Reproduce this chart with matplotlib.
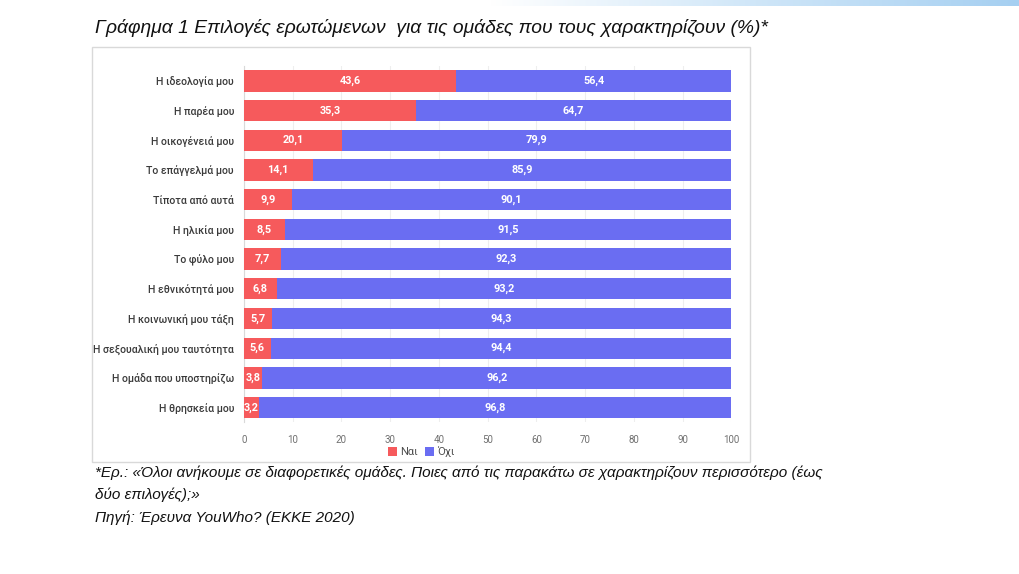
import numpy as np
import matplotlib.pyplot as plt
from matplotlib.patches import Rectangle
from matplotlib.colors import LinearSegmentedColormap

categories = ['Η ιδεολογία μου', 'Η παρέα μου', 'Η οικογένειά μου', 'Το επάγγελμά μου',
              'Τίποτα από αυτά', 'Η ηλικία μου', 'Το φύλο μου', 'Η εθνικότητά μου',
              'Η κοινωνική μου τάξη', 'Η σεξουαλική μου ταυτότητα',
              'Η ομάδα που υποστηρίζω', 'Η θρησκεία μου']
nai = [43.6, 35.3, 20.1, 14.1, 9.9, 8.5, 7.7, 6.8, 5.7, 5.6, 3.8, 3.2]
oxi = [56.4, 64.7, 79.9, 85.9, 90.1, 91.5, 92.3, 93.2, 94.3, 94.4, 96.2, 96.8]
series_names = ['Ναι', 'Όχι']
xticks = list(range(0, 101, 10))

title = 'Γράφημα 1 Επιλογές ερωτώμενων  για τις ομάδες που τους χαρακτηρίζουν (%)*'
note1 = '*Ερ.: «Όλοι ανήκουμε σε διαφορετικές ομάδες. Ποιες από τις παρακάτω σε χαρακτηρίζουν περισσότερο (έως'
note2 = 'δύο επιλογές);»'
note3 = 'Πηγή: Έρευνα YouWho? (EKKE 2020)'

red = '#F65A5C'
blue = '#6A6DF2'

fig = plt.figure(figsize=(10.2, 5.74), dpi=100)

# decorative gradient strip top right
gax = fig.add_axes([0.48, 0.99, 0.52, 0.01])
grad = np.linspace(0, 1, 256).reshape(1, -1)
gax.imshow(grad, aspect='auto', cmap=LinearSegmentedColormap.from_list(
    'g', ['#FFFFFF', '#CFE6F8', '#A5CFF1']))
gax.axis('off')

# chart frame
fig.patches.append(Rectangle((0.090, 0.195), 0.645, 0.723, transform=fig.transFigure,
                             fill=False, edgecolor='#D9D9D9', linewidth=1.0))

lfam = ['Roboto', 'DejaVu Sans']

ax = fig.add_axes([0.239, 0.264, 0.478, 0.621])
y = np.arange(len(categories))
h = 0.72
b1 = ax.barh(y, nai, height=h, color=red, label=series_names[0], zorder=3)
b2 = ax.barh(y, oxi, left=nai, height=h, color=blue, label=series_names[1], zorder=3)

for i in range(len(categories)):
    ax.text(nai[i] / 2, y[i], f'{nai[i]:.1f}'.replace('.', ','), ha='center', va='center',
            color='white', fontsize=7.8, fontweight='bold', family=lfam, zorder=4)
    ax.text(nai[i] + oxi[i] / 2, y[i], f'{oxi[i]:.1f}'.replace('.', ','), ha='center',
            va='center', color='white', fontsize=7.8, fontweight='bold', family=lfam, zorder=4)

ax.set_ylim(len(categories) - 0.5, -0.5)
ax.set_xlim(0, 100)
ax.set_xticks(xticks)
ax.set_xticklabels([str(t) for t in xticks], fontsize=7, color='#707070', family=lfam)
ax.set_yticks(y)
ax.set_yticklabels(categories, fontsize=7.6, color='#3A3A3A', fontweight='medium', family=lfam)
ax.tick_params(axis='both', length=0)
ax.tick_params(axis='y', pad=7)
ax.tick_params(axis='x', pad=9)
ax.grid(axis='x', color='#EEEEEE', linewidth=0.8, zorder=0)
for s in ['top', 'right', 'bottom']:
    ax.spines[s].set_visible(False)
ax.spines['left'].set_color('#D9D9D9')

fig.legend(handles=[b1, b2], loc='center', bbox_to_anchor=(0.413, 0.213), ncol=2,
           frameon=False, prop={'family': lfam, 'size': 8}, handlelength=0.8,
           handleheight=0.8, handletextpad=0.3, columnspacing=0.6, labelcolor='#505050')

tfam = ['Liberation Sans', 'DejaVu Sans']
fig.text(0.093, 0.952, title, fontsize=13.9, style='italic', family=tfam, color='#111111',
         va='center', ha='left')
fig.text(0.093, 0.176, note1, fontsize=11, style='italic', family=tfam, color='#111111',
         va='center', ha='left')
fig.text(0.093, 0.138, note2, fontsize=11, style='italic', family=tfam, color='#111111',
         va='center', ha='left')
fig.text(0.093, 0.098, note3, fontsize=11, style='italic', family=tfam, color='#111111',
         va='center', ha='left')

fig.savefig('out.png', dpi=100)
